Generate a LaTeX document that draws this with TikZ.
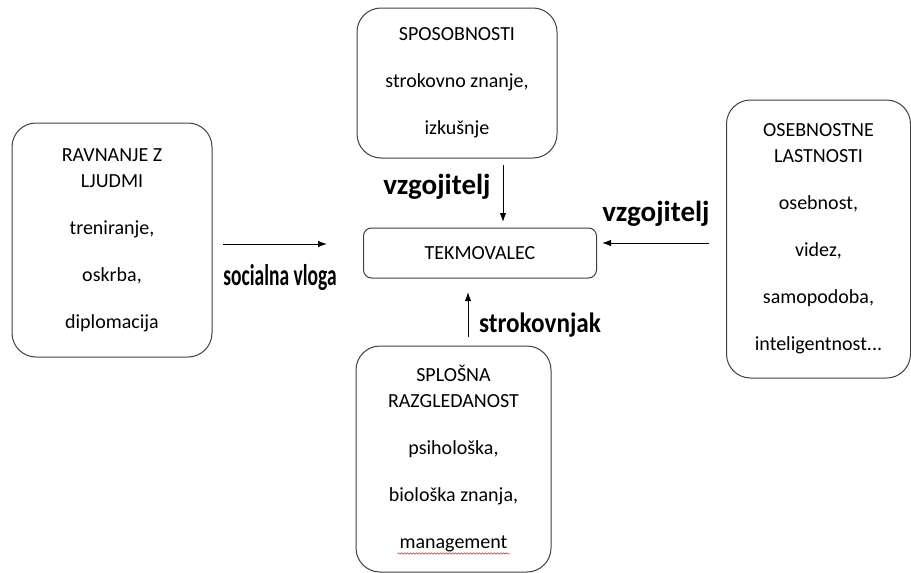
\documentclass[tikz,border=0pt]{standalone}
\usepackage{fontspec}
\setmainfont{Carlito}
\usetikzlibrary{arrows.meta,positioning,decorations.pathmorphing}
\definecolor{boxline}{RGB}{64,64,64}
\definecolor{spellred}{RGB}{220,40,40}
\tikzset{
  ibox/.style={rounded corners=24pt, draw=boxline, line width=1pt, align=center,
               font=\fontsize{20}{26}\selectfont, inner sep=0pt},
  cbox/.style={rounded corners=8pt, draw=boxline, line width=1pt, align=center,
               font=\fontsize{20}{26}\selectfont, minimum width=233pt, minimum height=50pt},
  lbl/.style={font=\fontsize{29}{30}\selectfont\bfseries, anchor=base, inner sep=0pt},
  flow/.style={-{Latex[length=9pt,width=6.5pt]}, line width=1pt, draw=black},
}

\begin{document}
\begin{tikzpicture}[x=1pt,y=-1pt]
    \useasboundingbox (0,0) rectangle (911,573);
    \node[cbox] (tek) at (480,253) {TEKMOVALEC};
    \node[ibox, minimum width=200pt, minimum height=150pt] (spo) at (457,83)
      {SPOSOBNOSTI\\[21pt] strokovno znanje,\\[21pt] izkušnje};
    \node[ibox, minimum width=200pt, minimum height=234pt] (ravn) at (112,240)
      {RAVNANJE Z\\ LJUDMI\\[21pt] treniranje,\\[21pt] oskrba,\\[21pt] diplomacija};
    \node[ibox, minimum width=184pt, minimum height=278pt] (oseb) at (818.5,239)
      {OSEBNOSTNE\\ LASTNOSTI\\[21pt] osebnost,\\[21pt] videz,\\[21pt] samopodoba,\\[21pt] inteligentnost...};
    \node[ibox, minimum width=195pt, minimum height=226pt] (splo) at (453.5,459)
      {SPLOŠNA\\ RAZGLEDANOST\\[21pt] psihološka,\\[21pt] biološka znanja,\\[21pt] management};
    \draw[spellred, line width=0.5pt, decorate, decoration={snake, amplitude=0.8pt, segment length=3pt}]
      ([xshift=-56pt,yshift=19pt]splo.south) -- ([xshift=56pt,yshift=19pt]splo.south);
    % arrows
    \coordinate (soc1) at (223,244);
    \coordinate (soc2) at (327,244);
    \coordinate (top1) at (503,165);
    \coordinate (top2) at (503,222);
    \coordinate (rig1) at (709,243);
    \coordinate (rig2) at (602,243);
    \coordinate (bot1) at (468,337);
    \coordinate (bot2) at (468,292);
    \draw[flow] (soc1) -- (soc2);
    \draw[flow] (top1) -- (top2);
    \draw[flow] (rig1) -- (rig2);
    \draw[flow] (bot1) -- (bot2);
    \node[lbl] (lsoc) at (280,285) {\fontsize{30}{30}\selectfont\scalebox{0.65}[1]{socialna vloga}};
    \node[lbl] (ltop) at (437,194) {vzgojitelj};
    \node[lbl] (lrig) at (656,221) {vzgojitelj};
    \node[lbl] (lbot) at (540,332) {\fontsize{28}{28}\selectfont\scalebox{0.9}[1]{strokovnjak}};
  \end{tikzpicture}
\end{document}
